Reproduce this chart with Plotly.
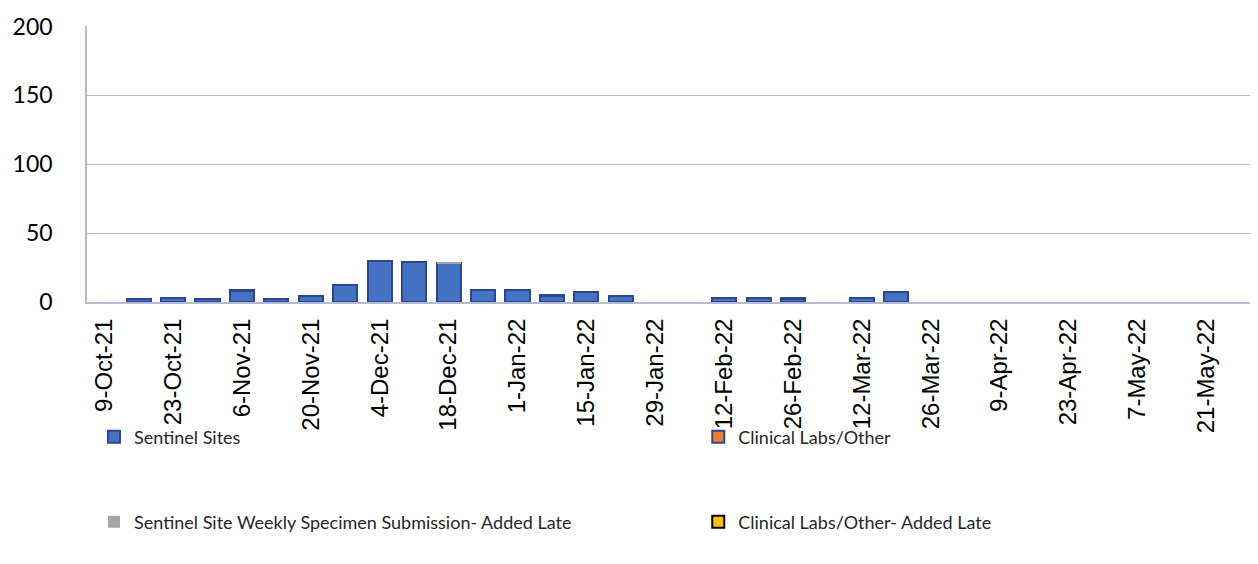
import plotly.graph_objects as go

# weekly categories (week ending)
weeks = [
    "9-Oct-21", "16-Oct-21", "23-Oct-21", "30-Oct-21",
    "6-Nov-21", "13-Nov-21", "20-Nov-21", "27-Nov-21",
    "4-Dec-21", "11-Dec-21", "18-Dec-21", "25-Dec-21",
    "1-Jan-22", "8-Jan-22", "15-Jan-22", "22-Jan-22", "29-Jan-22",
    "5-Feb-22", "12-Feb-22", "19-Feb-22", "26-Feb-22",
    "5-Mar-22", "12-Mar-22", "19-Mar-22", "26-Mar-22",
    "2-Apr-22", "9-Apr-22", "16-Apr-22", "23-Apr-22", "30-Apr-22",
    "7-May-22", "14-May-22", "21-May-22", "28-May-22",
]
sentinel = [0, 2, 3, 2, 8, 2, 4, 12, 30, 29, 28, 9, 9, 4, 7, 4, 0,
            0, 3, 3, 2, 0, 3, 7, 0, 0, 0, 0, 0, 0, 0, 0, 0, 0]
clinical = [0, 0, 0, 0, 1, 0, 0, 0, 0, 0, 0, 0, 0, 1, 0, 0, 0,
            0, 0, 0, 1, 0, 0, 0, 0, 0, 0, 0, 0, 0, 0, 0, 0, 0]
sentinel_late = [0, 0, 0, 0, 0, 0, 0, 0, 0, 0, 1, 0, 0, 0, 0, 0, 0,
                 0, 0, 0, 0, 0, 0, 0, 0, 0, 0, 0, 0, 0, 0, 0, 0, 0]
clinical_late = [0] * len(weeks)

tick_labels = weeks[::2]

GRID = "#B6B9CF"
EDGE = "#2A4790"
FONT_TXT = "Lato, 'Liberation Sans', sans-serif"


def nz(vals):
    return [v if v else None for v in vals]


fig = go.Figure()
series = [
    ("Sentinel Sites", sentinel, "#4472C4", EDGE, 2, "legend"),
    ("Clinical Labs/Other", clinical, "#ED7D31", EDGE, 2, "legend2"),
    ("Sentinel Site Weekly Specimen Submission- Added Late", sentinel_late,
     "#A5A5A5", "#A5A5A5", 0, "legend3"),
    ("Clinical Labs/Other- Added Late", clinical_late, "#FFC000", "#000000", 2, "legend4"),
]
for name, vals, fill, edge, lw, leg in series:
    fig.add_trace(go.Bar(
        x=weeks, y=nz(vals), name=name,
        marker=dict(color=fill, line=dict(color=edge, width=lw)),
        legend=leg,
    ))

legend_common = dict(
    orientation="h", xanchor="left", yanchor="middle",
    font=dict(family=FONT_TXT, size=18, color="#262626"),
    bgcolor="rgba(0,0,0,0)",
    itemclick=False, itemdoubleclick=False,
)

fig.update_layout(
    width=1250, height=556,
    paper_bgcolor="white", plot_bgcolor="white",
    margin=dict(l=79, r=0, t=18, b=262),
    barmode="stack", bargap=0.3,
    showlegend=True,
    legend=dict(x=0.006, y=-0.489, **legend_common),
    legend2=dict(x=0.522, y=-0.489, **legend_common),
    legend3=dict(x=0.006, y=-0.797, **legend_common),
    legend4=dict(x=0.522, y=-0.797, **legend_common),
    xaxis=dict(
        type="category", categoryorder="array", categoryarray=weeks,
        tickmode="array", tickvals=tick_labels, ticktext=tick_labels,
        tickangle=-90, tickfont=dict(family="Liberation Sans, Arial", size=24, color="black"),
        showline=True, linecolor=GRID, linewidth=2, showgrid=False,
        ticks="", ticklabelstandoff=5, automargin=False,
    ),
    yaxis=dict(
        range=[0, 200.4], tickvals=[0, 50, 100, 150, 200],
        tickfont=dict(family=FONT_TXT, size=23, color="black"),
        showgrid=True, gridcolor=GRID, gridwidth=1.3,
        showline=True, linecolor=GRID, linewidth=1.5,
        zeroline=False, ticks="", ticklabelstandoff=28, automargin=False,
    ),
)

fig.write_html("out.html")
